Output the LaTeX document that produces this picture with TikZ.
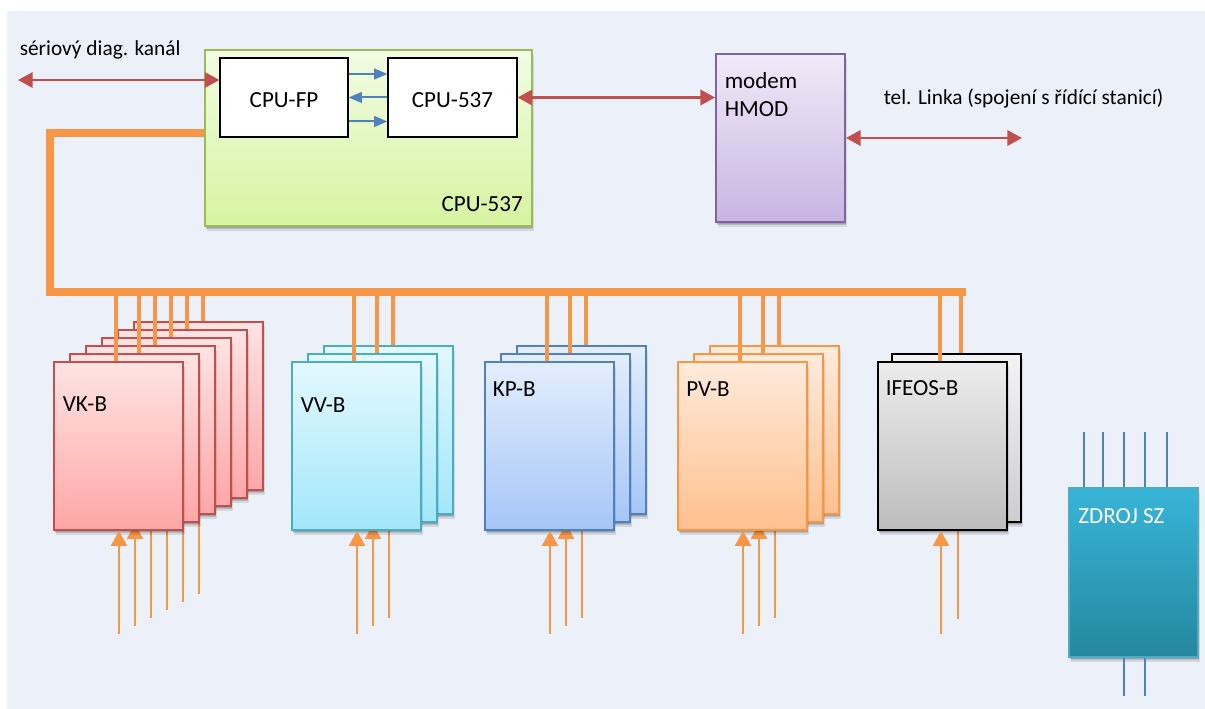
\documentclass[tikz,border=0pt]{standalone}
\usepackage{fontspec}
\setmainfont{Carlito}
\usetikzlibrary{arrows.meta,shadows,calc}

\definecolor{bgc}{HTML}{ECF0F8}
\definecolor{redln}{HTML}{C0504D}
\definecolor{blueln}{HTML}{4F81BD}
\definecolor{busor}{HTML}{F79646}
\definecolor{grtop}{HTML}{F2FCE4}
\definecolor{grbot}{HTML}{D6F4A0}
\definecolor{grln}{HTML}{9BBB59}
\definecolor{mdtop}{HTML}{F1EAF8}
\definecolor{mdbot}{HTML}{C8B5E2}
\definecolor{mdln}{HTML}{8064A2}
\definecolor{vktop}{HTML}{FFE3E3}
\definecolor{vkbot}{HTML}{FFA6A6}
\definecolor{vvtop}{HTML}{E3F8FE}
\definecolor{vvbot}{HTML}{A2E7FA}
\definecolor{vvln}{HTML}{4BACC6}
\definecolor{kptop}{HTML}{E3EDFD}
\definecolor{kpbot}{HTML}{A6C6F8}
\definecolor{pvtop}{HTML}{FFEADB}
\definecolor{pvbot}{HTML}{FFC08E}
\definecolor{iftop}{HTML}{ECECEC}
\definecolor{ifbot}{HTML}{BDBDBD}
\definecolor{zdtop}{HTML}{38B5D8}
\definecolor{zdbot}{HTML}{25879F}

\pgfdeclarelayer{under}
\pgfsetlayers{under,main}

% input lines of one board stack: plain lines 2..#2, second arrow half hidden, first arrow in front
\newcommand{\stackinputs}[2]{%
  \begin{pgfonlayer}{under}
    \foreach \k in {2,...,#2} {\draw[inline] ($(#1.south west)+({66+16*\k},{103-8*\k})$) coordinate (t) -- ($(t |- #1.south)+(0,-40)$);}
    \draw[inarrow] ($(#1.south west)+(82,95)$) coordinate (t) -- ($(t |- #1.south)+(0,-7)$);
  \end{pgfonlayer}
  \draw[inarrow] ($(#1.south west)+(66,103)$) coordinate (t) -- (t |- #1.south);
}

\begin{document}
\begin{tikzpicture}[x=0.75pt,y=-0.75pt,
  every node/.style={font=\fontsize{17.3}{21}\selectfont},
  small/.style={font=\fontsize{16}{19}\selectfont},
  boxshadow/.style={
    drop shadow={shadow xshift=0.6pt,shadow yshift=-1.2pt,opacity=0.13,fill=black},
    drop shadow={shadow xshift=1.1pt,shadow yshift=-2.4pt,opacity=0.13,fill=black},
    drop shadow={shadow xshift=1.6pt,shadow yshift=-3.6pt,opacity=0.10,fill=black}},
  board/.style={line width=1.4pt, anchor=north west, inner sep=0pt,
    minimum width=96.75pt, minimum height=126pt, boxshadow},
  vkb/.style={board, draw=redln, top color=vktop, bottom color=vkbot},
  vvb/.style={board, draw=vvln, top color=vvtop, bottom color=vvbot},
  kpb/.style={board, draw=blueln, top color=kptop, bottom color=kpbot},
  pvb/.style={board, draw=busor, top color=pvtop, bottom color=pvbot},
  ifb/.style={board, draw=black, top color=iftop, bottom color=ifbot},
  ifback/.style={board, draw=black, top color=iftop!60!white, bottom color=ifbot!75!white},
  cpubox/.style={draw=black, line width=0.8pt, fill=white, inner sep=0pt,
    minimum width=96pt, minimum height=59.25pt, text height=14.7pt, text depth=0pt},
  lbl/.style={anchor=base west, inner sep=0pt},
  redarrow/.style={draw=redln, line width=1.9pt,
    {Triangle[length=11pt,width=11.5pt]}-{Triangle[length=11pt,width=11.5pt]}},
  bluearrow/.style={draw=blueln, line width=1.5pt, -{Triangle[length=10pt,width=8pt]}},
  bus/.style={draw=busor, line width=5.3pt},
  stub/.style={draw=busor, line width=3.6pt},
  inline/.style={draw=busor, line width=1.4pt},
  inarrow/.style={inline, -{Triangle[length=11.2pt,width=12pt]}},
  pin/.style={draw=blueln, line width=1.2pt}]

\begin{pgfonlayer}{under}
  \fill[white] (0,0) rectangle (1205,709);
  \fill[bgc] (7,11) rectangle (1205,709);
\end{pgfonlayer}
\useasboundingbox (0,0) rectangle (1205,709);

% ---------- processor unit ----------
\node[draw=grln, line width=1.4pt, top color=grtop, bottom color=grbot, boxshadow,
      minimum width=245.25pt, minimum height=132pt, inner sep=0pt] (green) at (368.5,138) {};
\node[lbl, anchor=base east] (greenlbl) at (523,211.5) {CPU-537};
\node[cpubox] (cpufp) at (284,97.5) {CPU-FP};
\node[cpubox, minimum width=96.75pt] (cpu) at (452.5,97.5) {CPU-537};

\coordinate (b1) at (0,74);
\coordinate (b2) at (0,97.5);
\coordinate (b3) at (0,121.5);
\draw[bluearrow] (b1 -| cpufp.east) -- (b1 -| cpu.west);
\draw[bluearrow] (b2 -| cpu.west) -- (b2 -| cpufp.east);
\draw[bluearrow] (b3 -| cpufp.east) -- (b3 -| cpu.west);

% ---------- modem ----------
\node[draw=mdln, line width=1.4pt, top color=mdtop, bottom color=mdbot, boxshadow,
      minimum width=96.75pt, minimum height=126pt, inner sep=0pt] (modem) at (780.5,138) {};
\node[lbl] (modemlbl) at (724.5,89) {modem};
\node[lbl] (hmodlbl) at (724.5,117) {HMOD};

% ---------- serial and phone lines ----------
\node[lbl, small] (serlbl) at (19.5,56) {sériový diag. kanál};
\coordinate (serend) at (18,80);
\draw[redarrow] (serend) -- (serend -| cpufp.west);
\draw[redarrow] (cpu.east) -- (cpu.east -| modem.west);
\node[lbl, small] (tellbl) at (883.5,105) {tel. Linka (spojení s řídící stanicí)};
\coordinate (telend) at (1022,138);
\draw[redarrow] (telend -| modem.east) -- (telend);

% ---------- system bus ----------
\coordinate (busl) at (50,292);
\coordinate (busr) at (966,292);
\coordinate (busy) at (0,292);
\draw[bus] ($(green.west)+(0,-5)$) -| (busl) -- (busr);

% ---------- board stacks ----------
\foreach \i in {5,...,0} {\node[vkb] (vk\i) at ({53+16*\i},{361-8*\i}) {};}
\foreach \i in {2,...,0} {\node[vvb] (vv\i) at ({291+16*\i},{361-8*\i}) {};}
\foreach \i in {2,...,0} {\node[kpb] (kp\i) at ({484+16*\i},{361-8*\i}) {};}
\foreach \i in {2,...,0} {\node[pvb] (pv\i) at ({677+16*\i},{361-8*\i}) {};}
\node[ifback] (if1) at (891,353) {};
\node[ifb] (if0) at (877,361) {};

\node[lbl] (vklbl) at (62.5,411.7) {VK-B};
\node[lbl] (vvlbl) at (300.5,412) {VV-B};
\node[lbl] (kplbl) at (492.5,396) {KP-B};
\node[lbl] (pvlbl) at (686,396) {PV-B};
\node[lbl] (iflbl) at (885.5,395) {IFEOS-B};

% bus taps
\foreach \s/\n in {vk/5, vv/2, kp/2, pv/2, if/1} {
  \draw[stub] ($(\s0.north west)+(63,0)$) coordinate (t) -- (t |- busy);
  \foreach \i in {1,...,\n} {\draw[stub] ($(\s\i.north west)+(70,0)$) coordinate (t) -- (t |- busy);}
}

% field inputs
\stackinputs{vk0}{5}
\stackinputs{vv0}{2}
\stackinputs{kp0}{2}
\stackinputs{pv0}{2}
\begin{pgfonlayer}{under}
  \draw[inline] ($(if0.south west)+(81,88)$) coordinate (t) -- ($(t |- if0.south)+(0,-40)$);
\end{pgfonlayer}
\draw[inarrow] ($(if0.south west)+(64,103)$) coordinate (t) -- (t |- if0.south);

% ---------- power supply ----------
\node[draw=vvln, line width=1.4pt, top color=zdtop, bottom color=zdbot, boxshadow,
      minimum width=96.75pt, minimum height=126.75pt, inner sep=0pt] (zd) at (1133.5,572.5) {};
\node[lbl, text=white] (zdlbl) at (1078,523.3) {ZDROJ SZ};
\foreach \d in {16,35,56,77,99} {
  \draw[pin] ($(zd.north west)+(\d,0)$) coordinate (t) -- ++(0,-55);
}
\foreach \d in {56,77} {
  \draw[pin] ($(zd.south west)+(\d,0)$) coordinate (t) -- ++(0,38);
}
\end{tikzpicture}
\end{document}
